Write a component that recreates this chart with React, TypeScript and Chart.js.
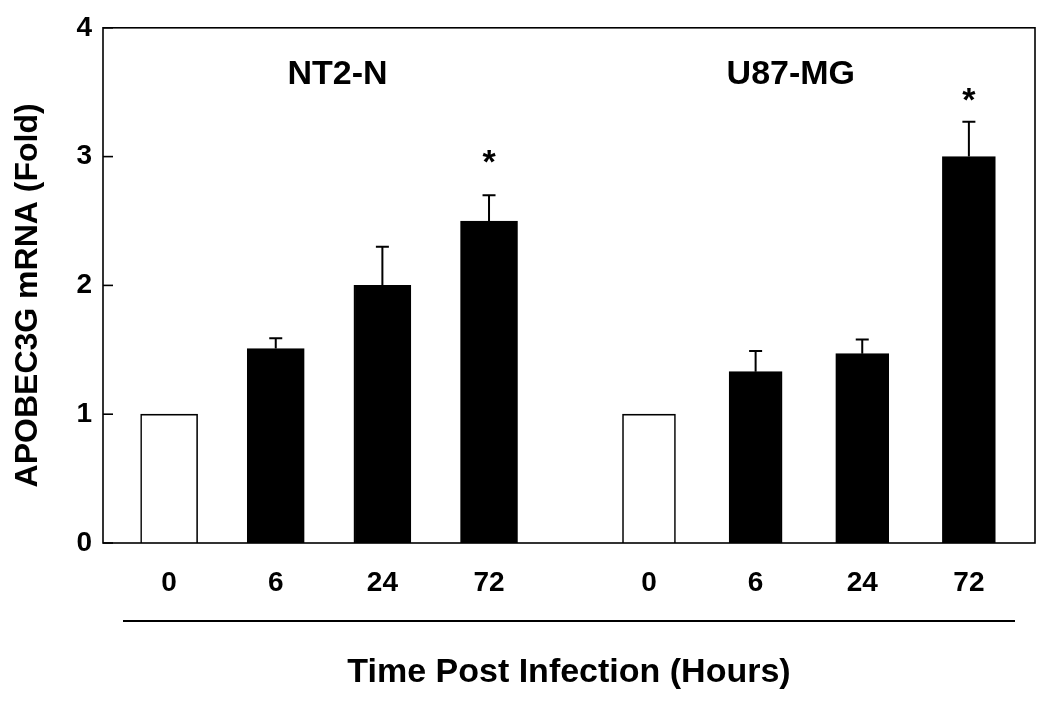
import React, { useEffect, useRef } from 'react';
import { Chart, registerables } from 'chart.js';
Chart.register(...registerables);

// ---- data ----
const timeLabels = ['0', '6', '24', '72', '0', '6', '24', '72'];
const nt2Positions = [0, 1, 2, 3];
const u87Positions = [4.5, 5.5, 6.5, 7.5];
const groupNames = ['NT2-N', 'U87-MG'];
const groupLabelX = [1.58, 5.83];
const groupLabelY = 3.65;
const nt2Values = [1.0, 1.51, 2.0, 2.5];
const nt2Errors = [0, 0.08, 0.3, 0.2];
const u87Values = [1.0, 1.33, 1.47, 3.0];
const u87Errors = [0, 0.16, 0.11, 0.27];
const nt2Stars: (number | null)[] = [null, null, null, 3.0];
const u87Stars: (number | null)[] = [null, null, null, 3.48];
const yTickValues = [0, 1, 2, 3, 4];
const yTitle = 'APOBEC3G mRNA (Fold)';
const xTitle = 'Time Post Infection (Hours)';

const FONT = '"Liberation Sans", Arial, Helvetica, sans-serif';
const allPositions = [...nt2Positions, ...u87Positions];

const groups = [
  { pos: nt2Positions, vals: nt2Values, errs: nt2Errors, stars: nt2Stars },
  { pos: u87Positions, vals: u87Values, errs: u87Errors, stars: u87Stars },
];

function centeredText(ctx: CanvasRenderingContext2D, text: string, cx: number, cy: number) {
  ctx.textAlign = 'center';
  ctx.textBaseline = 'alphabetic';
  const m = ctx.measureText(text);
  const off = (m.actualBoundingBoxAscent - m.actualBoundingBoxDescent) / 2;
  ctx.fillText(text, cx, cy + off);
}

const decor = {
  id: 'decor',
  afterDatasetsDraw(chart: any) {
    const { ctx, chartArea: a, scales } = chart;
    const x = scales.x;
    const y = scales.y;
    ctx.save();
    ctx.strokeStyle = '#000';
    ctx.fillStyle = '#000';
    // error bars (upper only)
    ctx.lineWidth = 2;
    groups.forEach((g) => {
      g.pos.forEach((p, i) => {
        const e = g.errs[i];
        if (!e) return;
        const cx = x.getPixelForValue(p);
        const y0 = y.getPixelForValue(g.vals[i]);
        const y1 = y.getPixelForValue(g.vals[i] + e);
        ctx.beginPath();
        ctx.moveTo(cx, y0);
        ctx.lineTo(cx, y1);
        ctx.moveTo(cx - 6.5, y1);
        ctx.lineTo(cx + 6.5, y1);
        ctx.stroke();
      });
    });
    // plot frame
    ctx.lineWidth = 1.6;
    ctx.strokeRect(a.left, a.top, a.right - a.left, a.bottom - a.top);
    // inward y ticks
    yTickValues.forEach((v) => {
      const py = y.getPixelForValue(v);
      ctx.beginPath();
      ctx.moveTo(a.left, py);
      ctx.lineTo(a.left + 10, py);
      ctx.stroke();
    });
    // group labels
    ctx.font = `bold 34px ${FONT}`;
    groupNames.forEach((name, i) => {
      centeredText(ctx, name, x.getPixelForValue(groupLabelX[i]), y.getPixelForValue(groupLabelY));
    });
    // significance stars
    ctx.font = `bold 34px ${FONT}`;
    groups.forEach((g) => {
      g.pos.forEach((p, i) => {
        const s = g.stars[i];
        if (s == null) return;
        centeredText(ctx, '*', x.getPixelForValue(p), y.getPixelForValue(s));
      });
    });
    // rule under the time labels
    ctx.lineWidth = 2;
    ctx.beginPath();
    ctx.moveTo(a.left + 20, a.bottom + 78);
    ctx.lineTo(a.right - 20, a.bottom + 78);
    ctx.stroke();
    // y axis title
    ctx.save();
    ctx.translate(29, (a.top + a.bottom) / 2 + 10);
    ctx.rotate(-Math.PI / 2);
    ctx.font = `bold 32px ${FONT}`;
    centeredText(ctx, yTitle, 0, 0);
    ctx.restore();
    ctx.restore();
  },
};

export default function App() {
  const ref = useRef<HTMLCanvasElement>(null);
  useEffect(() => {
    const chart = new Chart(ref.current as HTMLCanvasElement, {
      type: 'bar',
      data: {
        datasets: [
          {
            label: groupNames[0],
            data: nt2Positions.map((p, i) => ({ x: p, y: nt2Values[i] })),
            backgroundColor: nt2Values.map((_, i) => (i === 0 ? '#ffffff' : '#000000')),
            borderColor: '#000000',
            borderWidth: 1.6,
            barThickness: 57,
            grouped: false,
          } as any,
          {
            label: groupNames[1],
            data: u87Positions.map((p, i) => ({ x: p, y: u87Values[i] })),
            backgroundColor: u87Values.map((_, i) => (i === 0 ? '#ffffff' : '#000000')),
            borderColor: '#000000',
            borderWidth: 1.6,
            barThickness: 53,
            grouped: false,
          } as any,
        ],
      },
      options: {
        responsive: false,
        animation: false,
        devicePixelRatio: 1,
        layout: { padding: { left: 0, right: 15, top: 24, bottom: 0 } },
        plugins: { legend: { display: false }, tooltip: { enabled: false } },
        scales: {
          x: {
            type: 'linear',
            offset: false,
            min: -0.62,
            max: 8.12,
            afterBuildTicks: (s: any) => {
              s.ticks = allPositions.map((v) => ({ value: v }));
            },
            afterFit: (s: any) => {
              s.height = 160;
            },
            grid: { display: false, drawTicks: false },
            border: { display: false },
            ticks: {
              autoSkip: false,
              maxRotation: 0,
              minRotation: 0,
              padding: 23,
              color: '#000',
              font: { family: FONT, size: 28, weight: 'bold' },
              callback: (_v: any, i: number) => timeLabels[i],
            },
            title: {
              display: true,
              text: xTitle,
              color: '#000',
              font: { family: FONT, size: 34, weight: 'bold' },
              padding: { top: 0, bottom: 10 },
            },
          },
          y: {
            type: 'linear',
            min: 0,
            max: 4,
            afterBuildTicks: (s: any) => {
              s.ticks = yTickValues.map((v) => ({ value: v }));
            },
            afterFit: (s: any) => {
              s.width = 103;
            },
            grid: { display: false, drawTicks: false },
            border: { display: false },
            ticks: {
              padding: 11,
              color: '#000',
              font: { family: FONT, size: 28, weight: 'bold' },
              callback: (v: any) => String(v),
            },
          },
        },
      } as any,
      plugins: [decor],
    });
    return () => chart.destroy();
  }, []);
  return (
    <div style={{ position: 'fixed', left: 0, top: 0, width: 1050, height: 703, background: '#fff' }}>
      <canvas ref={ref} width={1050} height={703} style={{ width: 1050, height: 703, display: 'block' }} />
    </div>
  );
}
